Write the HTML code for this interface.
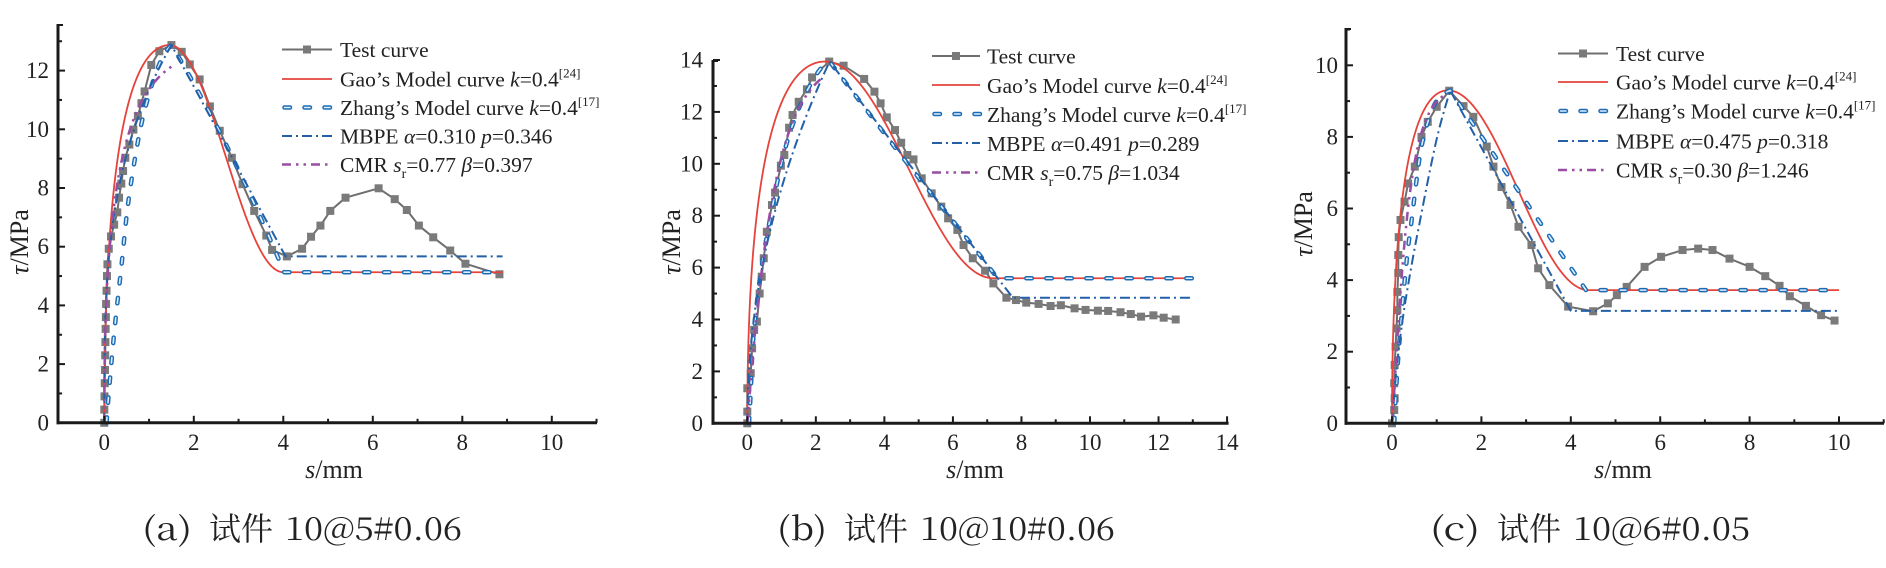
<!DOCTYPE html>
<html><head><meta charset="utf-8">
<style>
html,body{margin:0;padding:0;background:#fff;}
svg{display:block;}
.t{font-family:"Liberation Serif",serif;fill:#222;}
.tk{font-size:23px;}
.lg{font-size:21.5px;}
.al{font-size:26px;}
.cap{font-family:"Noto Serif CJK SC","Liberation Serif",serif;font-size:32px;fill:#222;}
</style></head><body>
<svg id="s" xmlns="http://www.w3.org/2000/svg" width="1886" height="568" viewBox="0 0 1886 568" font-family="Liberation Serif, serif">
<rect width="1886" height="568" fill="#fff"/>
<g id="plots"></g>

<g class="t tk" text-anchor="middle" font-family="Liberation Serif, serif">
<text x="104.3" y="450">0</text><text x="193.8" y="450">2</text><text x="283.3" y="450">4</text><text x="372.8" y="450">6</text><text x="462.3" y="450">8</text><text x="551.8" y="450">10</text>
<text x="747.3" y="450">0</text><text x="815.8" y="450">2</text><text x="884.4" y="450">4</text><text x="952.9" y="450">6</text><text x="1021.5" y="450">8</text><text x="1090" y="450">10</text><text x="1158.5" y="450">12</text><text x="1227.1" y="450">14</text>
<text x="1392" y="450">0</text><text x="1481.4" y="450">2</text><text x="1570.8" y="450">4</text><text x="1660.2" y="450">6</text><text x="1749.6" y="450">8</text><text x="1839" y="450">10</text>
</g>
<g class="t tk" text-anchor="end" font-family="Liberation Serif, serif">
<text x="49" y="430.3">0</text><text x="49" y="371.6">2</text><text x="49" y="312.9">4</text><text x="49" y="254.2">6</text><text x="49" y="195.5">8</text><text x="49" y="136.8">10</text><text x="49" y="78.1">12</text>
<text x="703" y="430.8">0</text><text x="703" y="378.9">2</text><text x="703" y="327">4</text><text x="703" y="275.1">6</text><text x="703" y="223.2">8</text><text x="703" y="171.3">10</text><text x="703" y="119.4">12</text><text x="703" y="67.5">14</text>
<text x="1338" y="430.8">0</text><text x="1338" y="359.2">2</text><text x="1338" y="287.6">4</text><text x="1338" y="216">6</text><text x="1338" y="144.4">8</text><text x="1338" y="72.8">10</text>
</g>

<g font-family="Liberation Serif, serif">
<text class="t al" text-anchor="middle" transform="translate(28,242) rotate(-90)"><tspan font-style="italic">τ</tspan>/MPa</text>
<text class="t al" text-anchor="middle" transform="translate(680,242) rotate(-90)"><tspan font-style="italic">τ</tspan>/MPa</text>
<text class="t al" text-anchor="middle" transform="translate(1312,224) rotate(-90)"><tspan font-style="italic">τ</tspan>/MPa</text>
<text class="t al" text-anchor="middle" x="334" y="478"><tspan font-style="italic">s</tspan>/mm</text>
<text class="t al" text-anchor="middle" x="975" y="478"><tspan font-style="italic">s</tspan>/mm</text>
<text class="t al" text-anchor="middle" x="1623" y="478"><tspan font-style="italic">s</tspan>/mm</text>
</g>

<g class="t lg" font-family="Liberation Serif, serif">
<text x="340" y="57">Test curve</text>
<text x="340" y="86.5">Gao’s Model curve <tspan font-style="italic">k</tspan>=0.4<tspan font-size="13" dy="-9">[24]</tspan></text>
<text x="340" y="115">Zhang’s Model curve <tspan font-style="italic">k</tspan>=0.4<tspan font-size="13" dy="-9">[17]</tspan></text>
<text x="340" y="143.5">MBPE <tspan font-style="italic">α</tspan>=0.310 <tspan font-style="italic">p</tspan>=0.346</text>
<text x="340" y="172">CMR <tspan font-style="italic">s</tspan><tspan font-size="14" dy="6">r</tspan><tspan dy="-6">=0.77 </tspan><tspan font-style="italic">β</tspan>=0.397</text>

<text x="987" y="63.5">Test curve</text>
<text x="987" y="93">Gao’s Model curve <tspan font-style="italic">k</tspan>=0.4<tspan font-size="13" dy="-9">[24]</tspan></text>
<text x="987" y="122">Zhang’s Model curve <tspan font-style="italic">k</tspan>=0.4<tspan font-size="13" dy="-9">[17]</tspan></text>
<text x="987" y="151">MBPE <tspan font-style="italic">α</tspan>=0.491 <tspan font-style="italic">p</tspan>=0.289</text>
<text x="987" y="180">CMR <tspan font-style="italic">s</tspan><tspan font-size="14" dy="6">r</tspan><tspan dy="-6">=0.75 </tspan><tspan font-style="italic">β</tspan>=1.034</text>

<text x="1616" y="61">Test curve</text>
<text x="1616" y="89.5">Gao’s Model curve <tspan font-style="italic">k</tspan>=0.4<tspan font-size="13" dy="-9">[24]</tspan></text>
<text x="1616" y="118.5">Zhang’s Model curve <tspan font-style="italic">k</tspan>=0.4<tspan font-size="13" dy="-9">[17]</tspan></text>
<text x="1616" y="148.5">MBPE <tspan font-style="italic">α</tspan>=0.475 <tspan font-style="italic">p</tspan>=0.318</text>
<text x="1616" y="177.5">CMR <tspan font-style="italic">s</tspan><tspan font-size="14" dy="6">r</tspan><tspan dy="-6">=0.30 </tspan><tspan font-style="italic">β</tspan>=1.246</text>
</g>

<text class="cap" x="142" y="540" textLength="50" lengthAdjust="spacingAndGlyphs">(a)</text>
<text class="cap" x="209" y="540" textLength="64" lengthAdjust="spacingAndGlyphs">试件</text>
<text class="cap" x="285" y="540" textLength="177" lengthAdjust="spacingAndGlyphs">10@5#0.06</text>

<text class="cap" x="777" y="540" textLength="50" lengthAdjust="spacingAndGlyphs">(b)</text>
<text class="cap" x="844" y="540" textLength="64" lengthAdjust="spacingAndGlyphs">试件</text>
<text class="cap" x="920" y="540" textLength="195" lengthAdjust="spacingAndGlyphs">10@10#0.06</text>

<text class="cap" x="1430" y="540" textLength="50" lengthAdjust="spacingAndGlyphs">(c)</text>
<text class="cap" x="1497" y="540" textLength="64" lengthAdjust="spacingAndGlyphs">试件</text>
<text class="cap" x="1573" y="540" textLength="177" lengthAdjust="spacingAndGlyphs">10@6#0.05</text>
</svg>
<script>
(function(){
const NS='http://www.w3.org/2000/svg';
const G=document.getElementById('plots');
function el(tag,attrs){const e=document.createElementNS(NS,tag);for(const k in attrs)e.setAttribute(k,attrs[k]);G.appendChild(e);return e;}
const AX={A:{x0:104.3,sx:44.75,y0:422.8,sy:29.35},B:{x0:747.3,sx:34.27,y0:423.3,sy:25.95},C:{x0:1392,sx:44.7,y0:423.3,sy:35.8}};
function X(a,x){return a.x0+a.sx*x;} function Y(a,y){return a.y0-a.sy*y;}
function dpx(pts){return pts.map((p,i)=>(i?'L':'M')+p[0].toFixed(2)+','+p[1].toFixed(2)).join('');}
function d(a,pts){return dpx(pts.map(p=>[X(a,p[0]),Y(a,p[1])]));}
function cr(pts,n){n=n||8;const out=[];for(let i=0;i<pts.length-1;i++){const p0=pts[Math.max(0,i-1)],p1=pts[i],p2=pts[i+1],p3=pts[Math.min(pts.length-1,i+2)];for(let j=0;j<n;j++){const t=j/n,t2=t*t,t3=t2*t;out.push([0,1].map(k=>0.5*((2*p1[k])+(-p0[k]+p2[k])*t+(2*p0[k]-5*p1[k]+4*p2[k]-p3[k])*t2+(-p0[k]+3*p1[k]-3*p2[k]+p3[k])*t3)));}}out.push(pts[pts.length-1]);return out;}
function fn(f,a,b,n,pw){pw=pw||1;const o=[];for(let i=0;i<=n;i++){const s=a+(b-a)*Math.pow(i/n,pw);o.push([s,f(s)]);}return o;}
function gao(tu,su,se,tr,xend){
  const up=fn(s=>{const r=s/su;return tu*(2*Math.sqrt(r)-r);},0,su,90,2.2);
  const dn=fn(s=>tr+(tu-tr)*(0.5+0.5*Math.cos(Math.PI*(s-su)/(se-su))),su,se,70);
  return up.concat(dn.slice(1),[[xend,tr]]);
}
function sTest(dd){el('path',{d:dd,fill:'none',stroke:'#6e6e6e','stroke-width':2,'stroke-linejoin':'round'});}
function mk(x,y){el('rect',{x:(x-4).toFixed(2),y:(y-4).toFixed(2),width:8,height:8,fill:'#7a7a7a'});}
function sRed(dd){el('path',{d:dd,fill:'none',stroke:'#e5433b','stroke-width':1.8,'stroke-linejoin':'round'});}
function sZh(dd){el('path',{d:dd,fill:'none',stroke:'#1d6bb4','stroke-width':4.5,'stroke-dasharray':'5.5 14.5','stroke-linecap':'round','stroke-linejoin':'round'});
  el('path',{d:dd,fill:'none',stroke:'#dcefff','stroke-width':1.6,'stroke-dasharray':'5.5 14.5','stroke-linecap':'round','stroke-linejoin':'round'});}
function sMb(dd){el('path',{d:dd,fill:'none',stroke:'#2360a8','stroke-width':2,'stroke-dasharray':'10 4 2 4','stroke-linejoin':'round'});}
function sCm(dd){el('path',{d:dd,fill:'none',stroke:'#9a4ea3','stroke-width':2.5,'stroke-dasharray':'9 5 2.5 5 2.5 5','stroke-linejoin':'round'});}

function axes(a,left,top,xmax,ymax,xend){
  const st={stroke:'#1a1a1a','stroke-width':2};
  for(let i=0;i<=xmax;i++){const x=X(a,i);const L=(i%2)?4:7;el('line',Object.assign({x1:x,x2:x,y1:a.y0,y2:a.y0-L},st));}
  for(let j=1;j<=ymax;j++){const y=Y(a,j);const L=(j%2)?4:7;el('line',Object.assign({x1:left,x2:left+L,y1:y,y2:y},st));}
  el('line',Object.assign({x1:left,x2:left+5,y1:top+1,y2:top+1},st));
  el('line',{x1:left,x2:left,y1:a.y0+1.5,y2:top,stroke:'#1a1a1a','stroke-width':3});
  el('line',{x1:left-1.5,x2:xend,y1:a.y0,y2:a.y0,stroke:'#1a1a1a','stroke-width':3});
}
function drawTest(a,pts){sTest(d(a,pts));pts.forEach(p=>mk(X(a,p[0]),Y(a,p[1])));}
function legend(x1,x2,ys){
  sTest(dpx([[x1,ys[0]],[x2,ys[0]]]));mk((x1+x2)/2,ys[0]);
  sRed(dpx([[x1,ys[1]],[x2,ys[1]]]));
  sZh(dpx([[x1+2.5,ys[2]],[x2,ys[2]]]));
  sMb(dpx([[x1,ys[3]],[x2,ys[3]]]));
  sCm(dpx([[x1,ys[4]],[x2,ys[4]]]));
}

(function(){
const a=AX.A;
const test=[[0,0],[0,0.45],[0.005,0.9],[0.01,1.35],[0.015,1.8],[0.02,2.3],[0.025,2.75],[0.03,3.2],[0.035,3.6],[0.04,4.05],[0.05,4.5],[0.06,5.0],[0.07,5.4],[0.1,5.93],[0.15,6.35],[0.22,6.75],[0.29,7.17],[0.33,7.67],[0.38,8.15],[0.42,8.58],[0.47,9.03],[0.56,9.48],[0.65,9.99],[0.75,10.45],[0.83,10.89],[0.9,11.29],[1.05,12.19],[1.23,12.66],[1.5,12.87],[1.73,12.64],[1.91,12.21],[2.13,11.7],[2.36,10.78],[2.58,9.95],[2.85,9.03],[3.09,8.13],[3.35,7.22],[3.62,6.38],[3.75,5.89],[4.08,5.67],[4.42,5.93],[4.62,6.34],[4.83,6.72],[5.05,7.22],[5.39,7.67],[6.13,7.99],[6.49,7.62],[6.76,7.25],[7.03,6.72],[7.35,6.32],[7.73,5.87],[8.07,5.42],[8.83,5.06]];
drawTest(a,test);
sRed(d(a,gao(12.87,1.46,4.0,5.13,8.9)));
const zu=cr([[0.05,0],[0.1,1.0],[0.22,3.05],[0.38,5.3],[0.54,7.56],[0.78,9.82],[1.0,11.2],[1.2,12.1],[1.35,12.6],[1.5,12.87]]);
const zd=cr([[1.5,12.87],[1.8,12.1],[2.2,11.0],[2.6,9.85],[3.0,8.6],[3.4,7.3],[3.75,6.1],[4.02,5.13]]);
sZh(d(a,zu.concat(zd.slice(1),[[8.9,5.13]])));
sMb(d(a,fn(s=>12.87*Math.pow(s/1.5,0.31),0,1.5,60,2).concat([[4.05,5.67],[8.9,5.67]])));
sCm(d(a,fn(s=>12.9*Math.pow(1-Math.exp(-s/0.77),0.397),0,1.5,60,2)));
axes(a,58,24,11,13,597);
legend(282,332,[49.5,79,107.5,136,164.5]);
})();

(function(){
const a=AX.B;
const test=[[0,0],[0,0.45],[0,1.35],[0.1,1.93],[0.14,2.89],[0.2,3.6],[0.28,3.92],[0.36,5.0],[0.42,5.65],[0.48,6.36],[0.57,7.38],[0.72,8.41],[0.81,8.89],[0.98,9.93],[1.08,10.34],[1.22,11.39],[1.32,11.88],[1.5,12.39],[1.74,12.87],[1.89,13.33],[2.39,13.94],[2.81,13.78],[3.41,13.27],[3.71,12.78],[3.89,12.33],[4.07,11.79],[4.31,11.3],[4.49,10.81],[4.67,10.34],[4.85,10.17],[5.09,9.44],[5.38,8.86],[5.66,8.35],[5.86,7.9],[6.13,7.45],[6.31,6.87],[6.58,6.36],[6.94,5.88],[7.18,5.39],[7.56,4.84],[7.84,4.75],[8.14,4.65],[8.5,4.6],[8.85,4.52],[9.15,4.55],[9.55,4.43],[9.87,4.37],[10.23,4.34],[10.53,4.33],[10.89,4.28],[11.19,4.21],[11.49,4.11],[11.85,4.16],[12.15,4.07],[12.5,4.0]];
drawTest(a,test);
sRed(d(a,gao(13.94,2.27,7.18,5.59,13.0)));
const zu=cr([[0.05,0],[0.1,1.2],[0.17,3.2],[0.35,5.4],[0.55,7.06],[0.8,8.8],[1.04,10.27],[1.35,11.6],[1.7,12.7],[2.1,13.6],[2.4,13.94]]);
sZh(d(a,zu.concat([[4.5,10.3],[6.6,6.8],[7.3,5.59],[13.0,5.59]])));
sMb(d(a,fn(s=>13.94*Math.pow(s/2.4,0.491),0,2.4,60,2).concat([[7.75,4.84],[12.95,4.84]])));
sCm(d(a,fn(s=>14.1*Math.pow(1-Math.exp(-s/0.75),1.034),0,2.25,60,1.5)));
axes(a,713,60,14,14,1228.6);
legend(932,980,[56,85,114,143,172.5]);
})();

(function(){
const a=AX.C;
const test=[[0,0],[0.05,0.37],[0.06,0.7],[0.05,1.12],[0.06,1.63],[0.08,2.14],[0.1,2.65],[0.12,3.16],[0.12,3.67],[0.14,4.2],[0.14,4.7],[0.15,5.2],[0.19,5.68],[0.28,6.19],[0.36,6.7],[0.51,7.17],[0.66,8.0],[0.8,8.42],[1.0,8.84],[1.28,9.29],[1.6,8.86],[1.82,8.56],[2.12,7.73],[2.27,7.17],[2.45,6.6],[2.65,6.1],[2.83,5.49],[3.12,4.98],[3.27,4.33],[3.52,3.86],[3.94,3.26],[4.5,3.13],[4.83,3.35],[5.03,3.58],[5.25,3.81],[5.65,4.37],[6.02,4.65],[6.5,4.84],[6.85,4.88],[7.17,4.84],[7.55,4.6],[8.0,4.37],[8.35,4.11],[8.67,3.84],[8.9,3.55],[9.26,3.28],[9.6,3.02],[9.9,2.87]];
drawTest(a,test);
sRed(d(a,gao(9.3,1.25,4.4,3.72,10.0)));
const zu=cr([[0.05,0],[0.12,1.5],[0.2,2.8],[0.25,3.54],[0.35,4.8],[0.44,5.68],[0.55,6.8],[0.66,7.73],[0.85,8.6],[1.05,9.1],[1.3,9.3]]);
sZh(d(a,zu.concat([[4.34,3.72],[10.0,3.72]])));
const mu=cr([[0,0],[0.1,1.5],[0.25,3],[0.45,4.5],[0.63,5.68],[0.85,7.07],[1.05,8.2],[1.3,9.3]]);
sMb(d(a,mu.concat([[4.0,3.14],[10.0,3.14]])));
sCm(d(a,fn(s=>9.4*Math.pow(1-Math.exp(-s/0.3),1.246),0,1.25,60,1.5)));
axes(a,1346,28,11,11,1884);
legend(1558,1608,[53.5,82,111,141,170]);
})();
})();
</script>
</body></html>
